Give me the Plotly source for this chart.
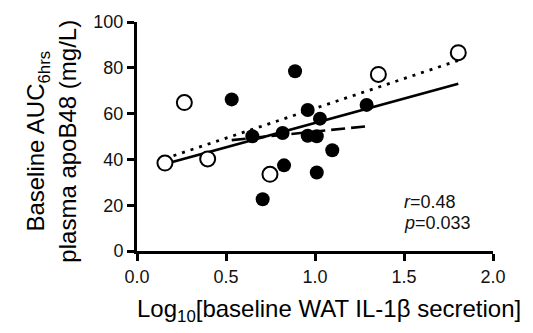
import numpy as np
import plotly.graph_objects as go

# Open circles (group A)
open_x = [0.157, 0.266, 0.397, 0.747, 1.356, 1.805]
open_y = [38.4, 64.8, 40.2, 33.5, 77.1, 86.6]
# Filled circles (group B)
filled_x = [0.532, 0.648, 0.888, 0.706, 0.818, 0.826, 0.959, 1.028, 0.959, 1.010, 1.010, 1.097, 1.290]
filled_y = [66.2, 50.1, 78.5, 22.6, 51.5, 37.4, 61.6, 57.8, 50.3, 50.1, 34.3, 44.0, 63.8]

x_ticks = [0.0, 0.5, 1.0, 1.5, 2.0]
x_tick_labels = ["0.0", "0.5", "1.0", "1.5", "2.0"]
y_ticks = [0, 20, 40, 60, 80, 100]
y_tick_labels = ["0", "20", "40", "60", "80", "100"]

stats_text = ["<i>r</i>=0.48", "<i>p</i>=0.033"]
x_title = "Log<sub>10</sub>[baseline WAT IL-1β secretion]"
y_title = "Baseline AUC<sub>6hrs</sub><br>plasma apoB48 (mg/L)"

FONT = "Liberation Sans, Arial, Helvetica, sans-serif"


def fit_line(xs, ys):
    xs = np.asarray(xs)
    ys = np.asarray(ys)
    m, b = np.polyfit(xs, ys, 1)
    xx = np.array([xs.min(), xs.max()])
    return xx, m * xx + b


all_x = open_x + filled_x
all_y = open_y + filled_y

fig = go.Figure()

lx, ly = fit_line(all_x, all_y)
fig.add_trace(go.Scatter(x=lx, y=ly, mode="lines", line=dict(color="black", width=2.6), showlegend=False))
lx, ly = fit_line(open_x, open_y)
fig.add_trace(go.Scatter(x=lx, y=ly, mode="lines", line=dict(color="black", width=2.8, dash="3px,6px"), showlegend=False))
lx, ly = fit_line(filled_x, filled_y)
fig.add_trace(go.Scatter(x=lx, y=ly, mode="lines", line=dict(color="black", width=2.6, dash="14px,6px"), showlegend=False))

fig.add_trace(go.Scatter(x=filled_x, y=filled_y, mode="markers",
                         marker=dict(symbol="circle", size=14, color="black", line=dict(width=0)),
                         showlegend=False))
fig.add_trace(go.Scatter(x=open_x, y=open_y, mode="markers",
                         marker=dict(symbol="circle", size=15, color="white", line=dict(color="black", width=2)),
                         showlegend=False))

for i, t in enumerate(stats_text):
    fig.add_annotation(x=1.49, y=21.6 - i * 9.3, text=t, showarrow=False, xanchor="left", yanchor="middle",
                       font=dict(family=FONT, size=18, color="#111"))

# axis titles as paper-positioned annotations
fig.add_annotation(xref="paper", yref="paper", x=0.539, y=-0.262, text=x_title, showarrow=False,
                   xanchor="center", yanchor="middle", font=dict(family=FONT, size=24, color="black"))
fig.add_annotation(xref="paper", yref="paper", x=-0.24, y=0.48, text=y_title, showarrow=False,
                   textangle=-90, xanchor="center", yanchor="middle",
                   font=dict(family=FONT, size=24, color="black"))

axis_common = dict(
    showline=True, linecolor="black", linewidth=3, mirror=False,
    ticks="outside", ticklen=7, tickwidth=2.5, tickcolor="black",
    showgrid=False, zeroline=False,
    tickfont=dict(family=FONT, size=18, color="#111"),
)

fig.update_layout(
    width=533, height=333,
    margin=dict(l=137, r=40, t=15, b=82),
    paper_bgcolor="white", plot_bgcolor="white",
    font=dict(family=FONT, color="black"),
    xaxis=dict(range=[0, 2], tickvals=x_ticks, ticktext=x_tick_labels, **axis_common),
    yaxis=dict(range=[0, 100], tickvals=y_ticks, ticktext=y_tick_labels, **axis_common),
)

fig.write_html("out.html")
